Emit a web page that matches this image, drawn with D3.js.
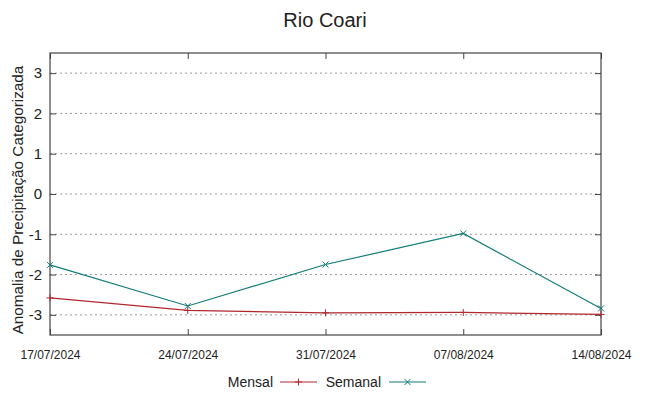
<!DOCTYPE html>
<html>
<head>
<meta charset="utf-8">
<script src="https://cdn.jsdelivr.net/npm/d3@7"></script>
<style>
  body { margin: 0; background: #fff; }
  text { font-family: "Liberation Sans", Arial, sans-serif; fill: #222; }
</style>
</head>
<body>
<div id="chart"></div>
<script>
// data
const dates = ["17/07/2024", "24/07/2024", "31/07/2024", "07/08/2024", "14/08/2024"];
const mensal = [-2.58, -2.89, -2.95, -2.94, -2.99];
const semanal = [-1.76, -2.78, -1.75, -0.98, -2.84];
const yTicks = [-3, -2, -1, 0, 1, 2, 3];

const width = 649, height = 396;
const margin = {top: 53, right: 48, bottom: 61, left: 50};

const parse = d3.timeParse("%d/%m/%Y");
const fmt = d3.timeFormat("%d/%m/%Y");

const svg = d3.select("#chart").append("svg")
  .attr("width", width)
  .attr("height", height);

const x = d3.scaleTime()
  .domain([parse(dates[0]), parse(dates[dates.length - 1])])
  .range([margin.left, width - margin.right]);

const y = d3.scaleLinear()
  .domain([-3.5, 3.5])
  .range([height - margin.bottom, margin.top]);

// title
svg.append("text")
  .attr("x", 325)
  .attr("y", 27)
  .attr("text-anchor", "middle")
  .attr("font-size", 20)
  .text("Rio Coari");

// dotted grid
svg.append("g").selectAll("line")
  .data(yTicks)
  .enter().append("line")
  .attr("x1", margin.left).attr("x2", width - margin.right)
  .attr("y1", d => y(d)).attr("y2", d => y(d))
  .attr("stroke", "#999")
  .attr("stroke-width", 1)
  .attr("stroke-dasharray", "2,3");

// axes (gnuplot style: inward ticks, mirrored)
const tickDates = dates.map(parse);
svg.append("g")
  .attr("transform", `translate(0,${height - margin.bottom})`)
  .call(d3.axisBottom(x).tickValues(tickDates).tickFormat(fmt).tickSizeInner(-6).tickSizeOuter(0).tickPadding(15))
  .call(g => g.select(".domain").remove())
  .call(g => g.selectAll("line").attr("stroke", "#444"))
  .call(g => g.selectAll("text").attr("font-size", 12).attr("fill", "#222"));

svg.append("g")
  .attr("transform", `translate(0,${margin.top})`)
  .call(d3.axisTop(x).tickValues(tickDates).tickFormat("").tickSizeInner(-6).tickSizeOuter(0))
  .call(g => g.select(".domain").remove())
  .call(g => g.selectAll("line").attr("stroke", "#444"));

svg.append("g")
  .attr("transform", `translate(${margin.left},0)`)
  .call(d3.axisLeft(y).tickValues(yTicks).tickFormat(d => String(d)).tickSizeInner(-6).tickSizeOuter(0).tickPadding(8))
  .call(g => g.select(".domain").remove())
  .call(g => g.selectAll("line").attr("stroke", "#444"))
  .call(g => g.selectAll("text").attr("font-size", 15).attr("fill", "#222"));

svg.append("g")
  .attr("transform", `translate(${width - margin.right},0)`)
  .call(d3.axisRight(y).tickValues(yTicks).tickFormat("").tickSizeInner(-6).tickSizeOuter(0))
  .call(g => g.select(".domain").remove())
  .call(g => g.selectAll("line").attr("stroke", "#444"));

svg.append("rect")
  .attr("x", margin.left).attr("y", margin.top)
  .attr("width", width - margin.left - margin.right)
  .attr("height", height - margin.top - margin.bottom)
  .attr("fill", "none")
  .attr("stroke", "#444")
  .attr("stroke-width", 1.2);

// y label
svg.append("text")
  .attr("transform", `translate(23,${(margin.top + height - margin.bottom) / 2 + 6}) rotate(-90)`)
  .attr("text-anchor", "middle")
  .attr("font-size", 15.3)
  .text("Anomalia de Precipitação Categorizada");

// series
const series = [
  {name: "Mensal", values: mensal, color: "#b0282d", mark: "plus"},
  {name: "Semanal", values: semanal, color: "#127b7a", mark: "cross"}
];

const line = d3.line()
  .x((d, i) => x(parse(dates[i])))
  .y(d => y(d));

function marker(g, type, cx, cy, color) {
  const s = 3.5;
  if (type === "plus") {
    g.append("line").attr("x1", cx - s).attr("x2", cx + s).attr("y1", cy).attr("y2", cy).attr("stroke", color);
    g.append("line").attr("x1", cx).attr("x2", cx).attr("y1", cy - s).attr("y2", cy + s).attr("stroke", color);
  } else {
    const c = 3;
    g.append("line").attr("x1", cx - c).attr("x2", cx + c).attr("y1", cy - c).attr("y2", cy + c).attr("stroke", color);
    g.append("line").attr("x1", cx - c).attr("x2", cx + c).attr("y1", cy + c).attr("y2", cy - c).attr("stroke", color);
  }
}

series.forEach(s => {
  svg.append("path")
    .datum(s.values)
    .attr("d", line)
    .attr("fill", "none")
    .attr("stroke", s.color)
    .attr("stroke-width", 1.2);
  const g = svg.append("g");
  s.values.forEach((v, i) => marker(g, s.mark, x(parse(dates[i])), y(v), s.color));
});

// legend
const legend = [
  {name: "Mensal", textX: 273, lineX: 280, color: "#b0282d", mark: "plus"},
  {name: "Semanal", textX: 381, lineX: 389, color: "#127b7a", mark: "cross"}
];
const ly = 382;
legend.forEach(l => {
  svg.append("text")
    .attr("x", l.textX).attr("y", ly + 5)
    .attr("text-anchor", "end")
    .attr("font-size", 14)
    .text(l.name);
  svg.append("line")
    .attr("x1", l.lineX).attr("x2", l.lineX + 37)
    .attr("y1", ly).attr("y2", ly)
    .attr("stroke", l.color).attr("stroke-width", 1.2);
  const g = svg.append("g");
  marker(g, l.mark, l.lineX + 18.5, ly, l.color);
});
</script>
</body>
</html>
